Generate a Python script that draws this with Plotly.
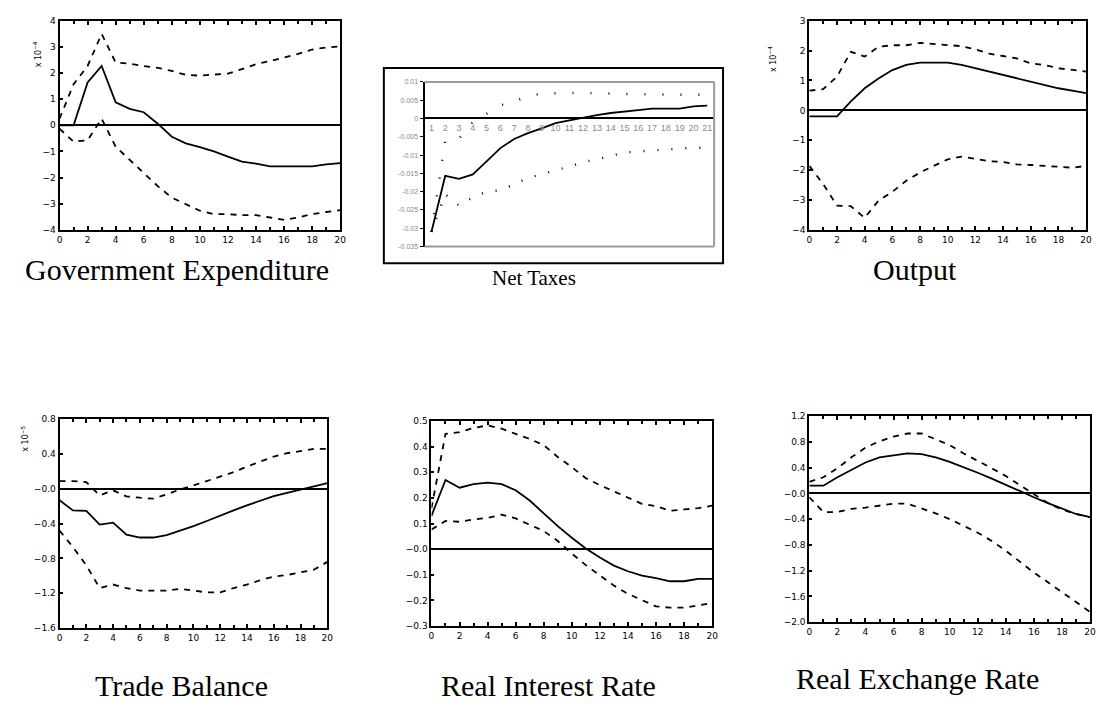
import plotly.graph_objects as go

W, H = 1098, 709

periods = list(range(21))
period_ticks = [0, 2, 4, 6, 8, 10, 12, 14, 16, 18, 20]
period_labels = ["0", "2", "4", "6", "8", "10", "12", "14", "16", "18", "20"]

# Government Expenditure (x 10^-4)
gov_irf = [0, 0, 1.64, 2.27, 0.88, 0.63, 0.5, 0.06, -0.44, -0.69, -0.84, -1.0, -1.2, -1.39, -1.47, -1.57, -1.57, -1.57, -1.57, -1.5, -1.45]
gov_upper = [0.25, 1.57, 2.27, 3.5, 2.4, 2.36, 2.27, 2.2, 2.08, 1.93, 1.9, 1.93, 1.98, 2.15, 2.34, 2.46, 2.6, 2.73, 2.9, 2.98, 3.02]
gov_lower = [-0.13, -0.63, -0.57, 0.25, -0.82, -1.32, -1.83, -2.33, -2.77, -3.02, -3.27, -3.4, -3.4, -3.44, -3.44, -3.53, -3.62, -3.53, -3.4, -3.32, -3.25]
gov_yticks = [4, 3, 2, 1, 0, -1, -2, -3, -4]
gov_ylabels = ["4", "3", "2", "1", "0", "\u22121", "\u22122", "\u22123", "\u22124"]

# Net Taxes
nt_periods = list(range(1, 22))
nt_irf = [-0.031, -0.0157, -0.0165, -0.0153, -0.0117, -0.0081, -0.0056, -0.004, -0.0027, -0.0013, -0.0005, 0.0003, 0.0009, 0.0015, 0.002, 0.0023, 0.0027, 0.0027, 0.0027, 0.0033, 0.0035]
nt_upper = [-0.031, -0.006, -0.0055, -0.001, 0.0013, 0.0036, 0.0047, 0.006, 0.0068, 0.007, 0.007, 0.007, 0.007, 0.0068, 0.0067, 0.0066, 0.0065, 0.0065, 0.0065, 0.0065, 0.0065]
nt_lower = [-0.031, -0.0207, -0.0238, -0.0216, -0.020, -0.0196, -0.018, -0.0162, -0.0153, -0.0141, -0.0132, -0.0119, -0.0112, -0.0103, -0.0093, -0.009, -0.0087, -0.0085, -0.0083, -0.008, -0.008]
nt_yticks = [0.01, 0.005, 0, -0.005, -0.01, -0.015, -0.02, -0.025, -0.03, -0.035]
nt_ylabels = ["0.01", "0.005", "0", "-0.005", "-0.01", "-0.015", "-0.02", "-0.025", "-0.03", "-0.035"]
nt_xlabels = [str(p) for p in nt_periods]

# Output (x 10^-4)
out_irf = [-0.2, -0.2, -0.2, 0.3, 0.74, 1.07, 1.35, 1.52, 1.6, 1.6, 1.6, 1.52, 1.41, 1.3, 1.19, 1.07, 0.96, 0.85, 0.74, 0.66, 0.58]
out_upper = [0.66, 0.71, 1.13, 1.96, 1.8, 2.13, 2.18, 2.18, 2.26, 2.22, 2.18, 2.15, 2.04, 1.9, 1.82, 1.74, 1.57, 1.52, 1.41, 1.35, 1.3]
out_lower = [-1.86, -2.47, -3.19, -3.21, -3.6, -3.02, -2.73, -2.36, -2.08, -1.86, -1.64, -1.55, -1.62, -1.7, -1.73, -1.81, -1.83, -1.86, -1.9, -1.92, -1.86]
out_yticks = [3, 2, 1, 0, -1, -2, -3, -4]
out_ylabels = ["3", "2", "1", "0", "\u22121", "\u22122", "\u22123", "\u22124"]

# Trade Balance (x 10^-5)
tb_irf = [-0.133, -0.248, -0.255, -0.411, -0.389, -0.526, -0.56, -0.56, -0.533, -0.484, -0.43, -0.37, -0.305, -0.248, -0.19, -0.133, -0.084, -0.046, -0.008, 0.027, 0.065]
tb_upper = [0.088, 0.088, 0.076, -0.076, -0.019, -0.088, -0.103, -0.114, -0.065, -0.008, 0.038, 0.088, 0.133, 0.19, 0.255, 0.316, 0.37, 0.408, 0.43, 0.457, 0.457]
tb_lower = [-0.48, -0.67, -0.88, -1.14, -1.10, -1.14, -1.17, -1.17, -1.17, -1.15, -1.17, -1.19, -1.19, -1.14, -1.10, -1.05, -1.01, -0.99, -0.96, -0.93, -0.84]
tb_yticks = [0.8, 0.4, 0.0, -0.4, -0.8, -1.2, -1.6]
tb_ylabels = ["0.8", "0.4", "\u22120.0", "\u22120.4", "\u22120.8", "\u22121.2", "\u22121.6"]

# Real Interest Rate
rir_irf = [0.13, 0.27, 0.24, 0.254, 0.26, 0.254, 0.23, 0.19, 0.14, 0.09, 0.045, 0.003, -0.032, -0.064, -0.086, -0.103, -0.113, -0.125, -0.125, -0.116, -0.116]
rir_upper = [0.16, 0.45, 0.457, 0.473, 0.483, 0.47, 0.45, 0.43, 0.406, 0.36, 0.32, 0.277, 0.25, 0.225, 0.2, 0.177, 0.168, 0.15, 0.155, 0.16, 0.17]
rir_lower = [0.077, 0.11, 0.107, 0.116, 0.122, 0.135, 0.12, 0.097, 0.071, 0.032, -0.017, -0.062, -0.103, -0.142, -0.174, -0.197, -0.223, -0.228, -0.228, -0.219, -0.21]
rir_yticks = [0.5, 0.4, 0.3, 0.2, 0.1, 0.0, -0.1, -0.2, -0.3]
rir_ylabels = ["0.5", "0.4", "0.3", "0.2", "0.1", "\u22120.0", "\u22120.1", "\u22120.2", "\u22120.3"]

# Real Exchange Rate
rer_irf = [0.12, 0.12, 0.25, 0.37, 0.48, 0.56, 0.59, 0.62, 0.61, 0.56, 0.49, 0.41, 0.32, 0.23, 0.13, 0.04, -0.06, -0.15, -0.24, -0.32, -0.37]
rer_upper = [0.18, 0.25, 0.39, 0.56, 0.71, 0.81, 0.88, 0.93, 0.93, 0.84, 0.75, 0.62, 0.51, 0.39, 0.27, 0.13, 0.0, -0.15, -0.25, -0.32, -0.37]
rer_lower = [-0.06, -0.29, -0.29, -0.24, -0.22, -0.19, -0.16, -0.16, -0.23, -0.31, -0.40, -0.5, -0.61, -0.74, -0.89, -1.06, -1.23, -1.38, -1.53, -1.68, -1.84]
rer_yticks = [1.2, 0.8, 0.4, 0.0, -0.4, -0.8, -1.2, -1.6, -2.0]
rer_ylabels = ["1.2", "0.8", "0.4", "\u22120.0", "\u22120.4", "\u22120.8", "\u22121.2", "\u22121.6", "\u22122.0"]

titles = ["Government Expenditure", "Net Taxes", "Output", "Trade Balance", "Real Interest Rate", "Real Exchange Rate"]


def px(x):
    return x / W


def py(y):
    return 1 - y / H


fig = go.Figure()
TICKFONT = dict(family="DejaVu Sans", size=9, color="black")
SERIF = "'Liberation Serif', 'Times New Roman', serif"

panels = [
    (1, (57, 340), (16, 228), [-4, 4], gov_yticks, gov_ylabels, gov_irf, gov_upper, gov_lower),
    (3, (813, 1092), (16, 228), [-4, 3], out_yticks, out_ylabels, out_irf, out_upper, out_lower),
    (4, (57, 327), (420, 632), [-1.6, 0.8], tb_yticks, tb_ylabels, tb_irf, tb_upper, tb_lower),
    (5, (432, 715), (422, 630), [-0.3, 0.5], rir_yticks, rir_ylabels, rir_irf, rir_upper, rir_lower),
    (6, (813, 1096), (417, 626), [-2.0, 1.2], rer_yticks, rer_ylabels, rer_irf, rer_upper, rer_lower),
]

for idx, (x0, x1), (y0, y1), yr, yt, yl, irf, up, lo in panels:
    xa = "x" if idx == 1 else f"x{idx}"
    ya = "y" if idx == 1 else f"y{idx}"
    for series, dash in ((up, "6px,6px"), (lo, "6px,6px"), (irf, "solid")):
        fig.add_trace(go.Scatter(x=periods, y=series, mode="lines", xaxis=xa, yaxis=ya,
                                 line=dict(color="black", width=1.8, dash=dash),
                                 showlegend=False, hoverinfo="skip"))
    key = "" if idx == 1 else str(idx)
    fig.layout["xaxis" + key] = dict(
        domain=[px(x0), px(x1)], anchor=ya, range=[0, 20],
        tickmode="array", tickvals=period_ticks, ticktext=period_labels,
        ticks="inside", ticklen=4, tickwidth=1.5, tickcolor="black",
        minor=dict(ticks="inside", dtick=1, tick0=0, ticklen=3, tickcolor="black", tickwidth=1.5),
        showline=True, linecolor="black", linewidth=2, mirror="ticks",
        showgrid=False, zeroline=False, tickfont=TICKFONT, fixedrange=True)
    fig.layout["yaxis" + key] = dict(
        domain=[py(y1), py(y0)], anchor=xa, range=yr,
        tickmode="array", tickvals=yt, ticktext=yl,
        ticks="inside", ticklen=3, tickwidth=1.5, tickcolor="black",
        showline=True, linecolor="black", linewidth=2, mirror=True,
        showgrid=False, zeroline=True, zerolinecolor="black", zerolinewidth=2,
        tickfont=TICKFONT, fixedrange=True)

# Net Taxes panel (spreadsheet style)
NT_L, NT_R, NT_T, NT_B = 425, 717, 78, 245
zero_px = NT_T + (0.01 - 0) / 0.045 * (NT_B - NT_T)
for series, dash, wd in ((nt_upper, "1px,17px", 2.4), (nt_lower, "1px,13px", 2.4), (nt_irf, "solid", 1.8)):
    fig.add_trace(go.Scatter(x=nt_periods, y=series, mode="lines", xaxis="x2", yaxis="y2",
                             line=dict(color="black", width=wd, dash=dash),
                             showlegend=False, hoverinfo="skip"))
gray = "#8a8a8a"
fig.layout["xaxis2"] = dict(
    domain=[px(NT_L), px(NT_R)], anchor="free", position=py(zero_px), range=[0.5, 21.5],
    tickmode="array", tickvals=nt_periods, ticktext=nt_xlabels,
    ticks="", showline=True, linecolor="black", linewidth=2,
    showgrid=False, zeroline=False, tickfont=dict(family="Liberation Sans", size=9, color=gray),
    ticklabelstandoff=1, fixedrange=True)
fig.layout["yaxis2"] = dict(
    domain=[py(NT_B), py(NT_T)], anchor="x2", range=[-0.035, 0.01],
    tickmode="array", tickvals=nt_yticks, ticktext=nt_ylabels,
    ticks="outside", ticklen=3, tickcolor="black", tickwidth=1,
    showline=True, linecolor="black", linewidth=2,
    showgrid=False, zeroline=False, tickfont=dict(family="Liberation Sans", size=7, color=gray),
    fixedrange=True)

shapes = [
    dict(type="rect", xref="paper", yref="paper", x0=px(384), x1=px(726), y0=py(262), y1=py(64),
         line=dict(color="black", width=2), layer="below"),
    dict(type="line", xref="paper", yref="paper", x0=px(NT_L), x1=px(NT_R), y0=py(NT_T), y1=py(NT_T),
         line=dict(color="#9a9a9a", width=2)),
    dict(type="line", xref="paper", yref="paper", x0=px(NT_R), x1=px(NT_R), y0=py(NT_B), y1=py(NT_T),
         line=dict(color="#9a9a9a", width=2)),
    dict(type="line", xref="paper", yref="paper", x0=px(NT_L), x1=px(NT_R), y0=py(NT_B), y1=py(NT_B),
         line=dict(color="#9a9a9a", width=2)),
]

annotations = []
for (x, y, txt) in ((27, 35, "x 10<sup>\u22124</sup>"), (783, 40, "x 10<sup>\u22124</sup>"), (15, 440, "x 10<sup>\u22125</sup>")):
    annotations.append(dict(x=px(x), y=py(y), xref="paper", yref="paper", text=txt, showarrow=False,
                            textangle=-90, font=dict(family="DejaVu Sans", size=8, color="black")))

title_pos = [(175, 268, 30), (535, 277, 21), (920, 268, 30), (180, 690, 30), (550, 690, 30), (922, 683, 30)]
for t, (x, y, s) in zip(titles, title_pos):
    annotations.append(dict(x=px(x), y=py(y), xref="paper", yref="paper", text=t, showarrow=False,
                            xanchor="center", yanchor="middle",
                            font=dict(family=SERIF, size=s, color="black")))

fig.update_layout(width=W, height=H, margin=dict(l=0, r=0, t=0, b=0),
                  paper_bgcolor="white", plot_bgcolor="white",
                  shapes=shapes, annotations=annotations, showlegend=False)

fig.write_html("out.html", config={"displayModeBar": False})
